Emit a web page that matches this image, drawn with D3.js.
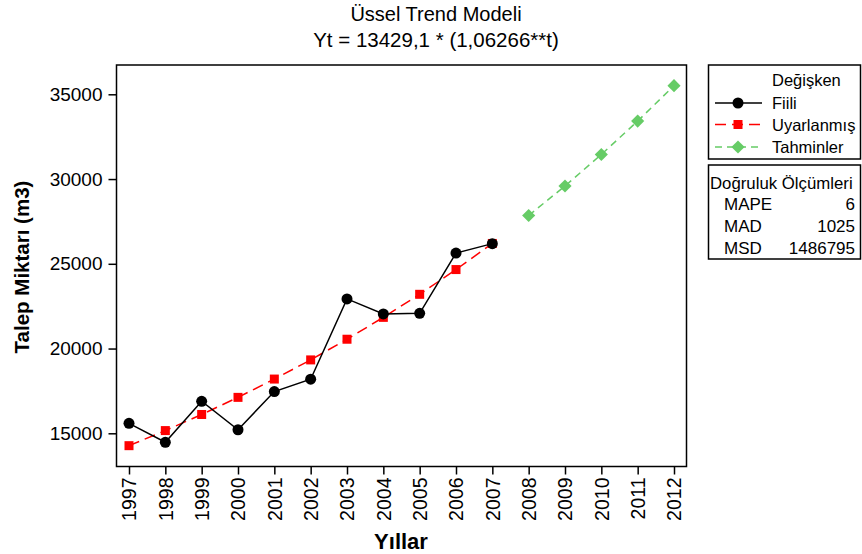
<!DOCTYPE html>
<html>
<head>
<meta charset="utf-8">
<script src="https://cdn.jsdelivr.net/npm/d3@7"></script>
<style>
  body { margin: 0; background: #fff; }
  svg { display: block; font-family: "Liberation Sans", Arial, sans-serif; }
</style>
</head>
<body>
<svg id="chart" width="862" height="554"></svg>
<script>
// Data
const years = [1997, 1998, 1999, 2000, 2001, 2002, 2003, 2004, 2005, 2006, 2007];
const fiili = [15590, 14470, 16890, 15210, 17460, 18190, 22930, 22040, 22080, 25630, 26190];
const uyarlanmis = [14270, 15160, 16110, 17120, 18200, 19330, 20550, 21840, 23200, 24660, 26200];
const forecastYears = [2008, 2009, 2010, 2011, 2012];
const tahminler = [27850, 29590, 31450, 33420, 35510];
const yTicks = [15000, 20000, 25000, 30000, 35000];
const xTicks = d3.range(1997, 2013);
const accuracyLabels = ['MAPE', 'MAD', 'MSD'];
const accuracyValues = ['6', '1025', '1486795'];

const svg = d3.select('#chart');

// plot frame
const plotLeft = 116.5, plotRight = 686.5, plotTop = 65, plotBottom = 466.5;

const x = d3.scaleLinear().domain([1997, 2012]).range([129, 674]);
const y = d3.scaleLinear().domain([15000, 35000]).range([433.3, 94.3]);

// Title
svg.append('text')
    .attr('x', 436).attr('y', 21)
    .attr('text-anchor', 'middle')
    .attr('font-size', '20px')
    .text('Üssel Trend Modeli');
svg.append('text')
    .attr('x', 436).attr('y', 47)
    .attr('text-anchor', 'middle')
    .attr('font-size', '20.5px')
    .text('Yt = 13429,1 * (1,06266**t)');

// Frame
svg.append('rect')
    .attr('x', plotLeft).attr('y', plotTop)
    .attr('width', plotRight - plotLeft).attr('height', plotBottom - plotTop)
    .attr('fill', 'none').attr('stroke', '#000').attr('stroke-width', 1.5);

// Y axis
const yAxis = d3.axisLeft(y).tickValues(yTicks).tickSize(8).tickPadding(6).tickFormat(d3.format('d'));
const yg = svg.append('g').attr('transform', `translate(${plotLeft},0)`).call(yAxis);
yg.select('.domain').remove();
yg.selectAll('line').attr('stroke-width', 1.5);
yg.selectAll('text').attr('font-size', '19px').attr('font-family', '"Liberation Sans", Arial, sans-serif').attr('fill', '#000');

// X axis
const xAxis = d3.axisBottom(x).tickValues(xTicks).tickSize(8).tickFormat(d3.format('d'));
const xg = svg.append('g').attr('transform', `translate(0,${plotBottom})`).call(xAxis);
xg.select('.domain').remove();
xg.selectAll('line').attr('stroke-width', 1.5);
xg.selectAll('text')
    .attr('font-size', '19.5px')
    .attr('font-family', '"Liberation Sans", Arial, sans-serif')
    .attr('fill', '#000')
    .attr('text-anchor', 'end')
    .attr('dy', '0.35em')
    .attr('transform', 'translate(0,11) rotate(-90)')
    .attr('x', 0).attr('y', 0);

// Axis titles
svg.append('text')
    .attr('x', 401).attr('y', 549)
    .attr('text-anchor', 'middle')
    .attr('font-size', '22px').attr('font-weight', 'bold')
    .text('Yıllar');
svg.append('text')
    .attr('transform', 'translate(29,267) rotate(-90)')
    .attr('text-anchor', 'middle')
    .attr('font-size', '20.5px').attr('font-weight', 'bold')
    .text('Talep Miktarı (m3)');

const line = d3.line().x(d => x(d[0])).y(d => y(d[1]));

const fiiliData = years.map((yr, i) => [yr, fiili[i]]);
const uyarData = years.map((yr, i) => [yr, uyarlanmis[i]]);
const tahData = forecastYears.map((yr, i) => [yr, tahminler[i]]);

const diamond = d3.symbol().type(d3.symbolDiamond2).size(110);

// Fitted (red, dashed)
svg.append('path').datum(uyarData)
    .attr('d', line).attr('fill', 'none')
    .attr('stroke', '#ff0000').attr('stroke-width', 1.5)
    .attr('stroke-dasharray', '11,6');

// Actual (black, solid)
svg.append('path').datum(fiiliData)
    .attr('d', line).attr('fill', 'none')
    .attr('stroke', '#000').attr('stroke-width', 1.5);

// Forecasts (green, dashed)
svg.append('path').datum(tahData)
    .attr('d', line).attr('fill', 'none')
    .attr('stroke', '#66cc66').attr('stroke-width', 1.5)
    .attr('stroke-dasharray', '7,5');

svg.selectAll('.uyar').data(uyarData).enter().append('rect')
    .attr('x', d => x(d[0]) - 4.5).attr('y', d => y(d[1]) - 4.5)
    .attr('width', 9).attr('height', 9)
    .attr('fill', '#ff0000');

svg.selectAll('.fiili').data(fiiliData).enter().append('circle')
    .attr('cx', d => x(d[0])).attr('cy', d => y(d[1]))
    .attr('r', 5.5).attr('fill', '#000');

svg.selectAll('.tah').data(tahData).enter().append('path')
    .attr('d', diamond)
    .attr('transform', d => `translate(${x(d[0])},${y(d[1])})`)
    .attr('fill', '#66cc66');

// Legend box
const lg = svg.append('g');
lg.append('rect').attr('x', 708.5).attr('y', 65).attr('width', 152).attr('height', 94)
    .attr('fill', 'none').attr('stroke', '#000').attr('stroke-width', 1.5);
lg.append('text').attr('x', 772).attr('y', 86).attr('font-size', '16.5px').text('Değişken');

const legendItems = [
    { label: 'Fiili', color: '#000', dash: null, y: 103, shape: 'circle' },
    { label: 'Uyarlanmış', color: '#ff0000', dash: '11,6', y: 124.5, shape: 'square' },
    { label: 'Tahminler', color: '#66cc66', dash: '7,5', y: 147, shape: 'diamond' }
];
legendItems.forEach(it => {
    lg.append('line')
        .attr('x1', 715).attr('x2', 762).attr('y1', it.y).attr('y2', it.y)
        .attr('stroke', it.color).attr('stroke-width', 1.5)
        .attr('stroke-dasharray', it.dash);
    if (it.shape === 'circle') {
        lg.append('circle').attr('cx', 738).attr('cy', it.y).attr('r', 5.5).attr('fill', it.color);
    } else if (it.shape === 'square') {
        lg.append('rect').attr('x', 733.5).attr('y', it.y - 4.5).attr('width', 9).attr('height', 9).attr('fill', it.color);
    } else {
        lg.append('path').attr('d', diamond).attr('transform', `translate(738,${it.y})`).attr('fill', it.color);
    }
    lg.append('text').attr('x', 772).attr('y', it.y + 6).attr('font-size', '16.5px').text(it.label);
});

// Accuracy box
const ag = svg.append('g');
ag.append('rect').attr('x', 708.5).attr('y', 165).attr('width', 152).attr('height', 94)
    .attr('fill', 'none').attr('stroke', '#000').attr('stroke-width', 1.5);
ag.append('text').attr('x', 710).attr('y', 189).attr('font-size', '16.8px').text('Doğruluk Ölçümleri');
accuracyLabels.forEach((lab, i) => {
    const yy = 210 + i * 22;
    ag.append('text').attr('x', 724).attr('y', yy).attr('font-size', '17px').text(lab);
    ag.append('text').attr('x', 855).attr('y', yy).attr('font-size', '17px')
        .attr('text-anchor', 'end').text(accuracyValues[i]);
});
</script>
</body>
</html>
